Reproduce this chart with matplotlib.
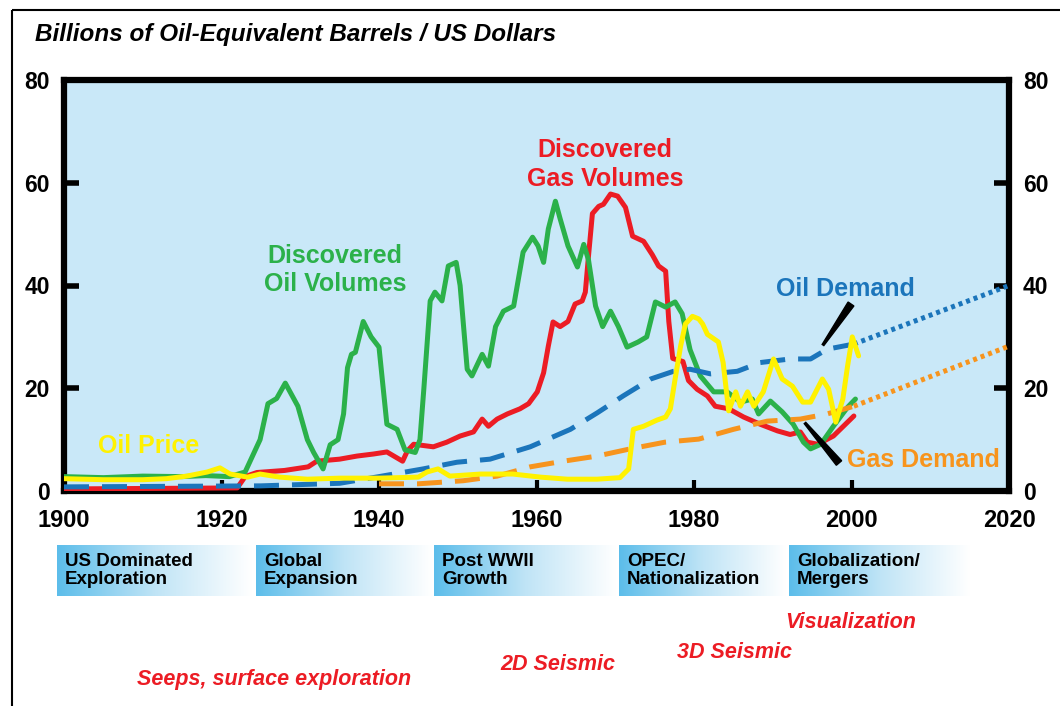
import numpy as np
import matplotlib
matplotlib.use("Agg")
import matplotlib.pyplot as plt
from matplotlib.colors import LinearSegmentedColormap
from matplotlib.patches import Rectangle, Polygon

# --- data ------------------------------------------------------------------
oil_vol_years = [1900, 1905, 1910, 1915, 1918, 1921, 1923, 1924.9, 1925.9, 1927, 1928.1, 1929.7,
                 1930.9, 1931.7, 1932.9, 1933.8, 1934.8, 1935.5, 1936, 1936.5, 1937, 1938, 1939,
                 1940, 1941, 1942.3, 1943.3, 1944.6, 1945.2, 1945.7, 1946.5, 1947.1, 1948, 1948.8,
                 1949.8, 1950.3, 1951.2, 1951.8, 1953.1, 1953.9, 1954.8, 1955.8, 1957.1, 1958.3,
                 1959.5, 1960.2, 1960.9, 1961.5, 1962.4, 1963, 1964, 1965.2, 1966, 1966.6, 1967.5,
                 1968.4, 1969.4, 1970.4, 1971.5, 1972.9, 1974, 1975.1, 1976.4, 1977.6, 1978.5,
                 1979.5, 1980.8, 1982.5, 1984.2, 1985.9, 1987.4, 1988.2, 1989.7, 1991.2, 1992.6,
                 1993.9, 1994.8, 1996.1, 1997.7, 1999.5, 2000.5]
oil_vol = [2.8, 2.6, 2.9, 2.8, 3.0, 2.8, 3.7, 10, 17, 18, 21, 16.5,
           10, 7.5, 4.3, 9, 10, 15, 24, 26.6, 27, 33, 30,
           28, 13, 12, 8, 7.5, 10, 20, 37, 38.7, 37, 43.8,
           44.5, 40, 23.7, 22.4, 26.6, 24.3, 32, 35, 36, 46.5,
           49.4, 47.7, 44.5, 51, 56.4, 53, 47.7, 43.6, 48, 45, 36,
           32, 35, 32, 28, 29, 30, 36.8, 35.8, 36.8, 34.5,
           27.5, 22.4, 19.3, 19.3, 17.3, 17.9, 15, 17.5, 15.4, 13,
           9.5, 8.2, 9.1, 12.6, 16.3, 17.9]

gas_vol_years = [1900, 1922, 1923, 1924.5, 1928, 1931, 1932.1, 1935, 1937.2, 1939.3, 1941, 1943,
                 1943.6, 1944.4, 1946.9, 1948.6, 1950.3, 1952, 1953.1, 1953.9, 1955, 1956.3,
                 1957.9, 1959, 1960.1, 1960.9, 1961.5, 1962.1, 1963, 1964, 1964.9, 1965.8, 1966.2,
                 1966.6, 1967.1, 1967.9, 1968.5, 1969.4, 1970.3, 1971.3, 1972.2, 1973.6, 1974.7,
                 1975.5, 1976.4, 1976.8, 1977.3, 1978.6, 1979.3, 1980.4, 1981.7, 1982.7, 1984.4,
                 1986.3, 1988.4, 1990.6, 1992.2, 1993.5, 1994.4, 1995.7, 1997.7, 2000.3]
gas_vol = [0.4, 0.6, 2.8, 3.6, 4.0, 4.7, 5.8, 6.2, 6.8, 7.2, 7.6, 5.8,
           7.8, 9.1, 8.6, 9.5, 10.7, 11.5, 14, 12.6, 14, 15,
           16, 17, 19.3, 23, 28.2, 32.9, 32, 33, 36.4, 37, 38.7,
           45.7, 54, 55.4, 55.8, 57.8, 57.4, 55.2, 49.6, 48.6, 46,
           43.8, 42.8, 33, 25.8, 25.2, 21.5, 19.8, 18.5, 16.5, 16,
           14.4, 13, 11.7, 11, 11.5, 9.5, 9.1, 10.7, 14.6]

price_years = [1900, 1905, 1910, 1913, 1915.6, 1918.2, 1919.8, 1921.1, 1923.3, 1924.9, 1927.4,
               1930.9, 1935, 1940, 1945, 1946.1, 1947.5, 1949, 1952.9, 1957, 1960.5, 1963.9,
               1967.7, 1970.6, 1971.7, 1972.3, 1973.6, 1975.3, 1976.4, 1977, 1977.6, 1978.3,
               1978.9, 1979.8, 1980.6, 1981.1, 1981.7, 1983.1, 1983.7, 1984.4, 1985.3, 1985.9,
               1986.8, 1987.6, 1988.8, 1990.1, 1991.2, 1992.5, 1993.8, 1994.8, 1996.3, 1997.1,
               1998, 1998.9, 1999.5, 2000.1, 2000.9]
price = [2.4, 2.2, 2.2, 2.4, 2.9, 3.7, 4.5, 3.3, 2.7, 3.3, 2.7,
         2.3, 2.5, 2.5, 2.7, 3.7, 4.3, 2.9, 3.3, 3.3, 2.7, 2.3,
         2.3, 2.6, 4.3, 12, 12.6, 13.8, 14.4, 16, 21.8, 28.2,
         32.5, 34, 33.5, 32.5, 30.5, 29, 25, 15.6, 19.3, 16.5,
         19.3, 16.5, 19.3, 25.7, 21.8, 20.4, 17.3, 17.3, 21.8, 19.8,
         13.4, 17.9, 24.3, 30, 26.3]

oil_dem_years = [1900, 1925, 1935, 1940, 1945.6, 1949.9, 1954.1, 1959.2, 1964.3, 1967.7, 1971,
                 1974.5, 1977.4, 1979.5, 1982.1, 1985.5, 1988.4, 1992.2, 1994.8, 1996.9, 2000.3]
oil_dem = [0.8, 1.0, 1.5, 2.8, 4.3, 5.6, 6.2, 8.6, 12, 15.2, 18.5,
           21.8, 23.3, 23.7, 22.8, 23.3, 25, 25.7, 25.7, 27.6, 28.6]
oil_dem_fc_years = [2000.3, 2020]
oil_dem_fc = [28.6, 40]

gas_dem_years = [1940, 1945, 1950.7, 1955, 1959.2, 1963.4, 1967.7, 1971.9, 1976.3, 1980.6,
                 1985, 1989.3, 1993.5, 1996.9, 2000.3]
gas_dem = [1.4, 1.4, 2.0, 2.9, 4.7, 5.8, 6.8, 8.2, 9.5, 10.1, 12, 13.6, 14, 15, 16.5]
gas_dem_fc_years = [2000.3, 2020]
gas_dem_fc = [16.5, 28.2]

eras = ["US Dominated\nExploration", "Global\nExpansion", "Post WWII\nGrowth",
        "OPEC/\nNationalization", "Globalization/\nMergers"]
techniques = ["Visualization", "3D Seismic", "2D Seismic", "Seeps, surface exploration"]

# --- colours ---------------------------------------------------------------
GREEN = "#2bb14a"
RED = "#ec1c24"
YELLOW = "#fff200"
BLUE = "#1b75bb"
ORANGE = "#f7941d"
BG = "#c9e8f8"

NARROW = ["Liberation Sans Narrow", "Liberation Sans", "DejaVu Sans"]
WIDE = ["Liberation Sans", "DejaVu Sans"]

fig = plt.figure(figsize=(10.6, 7.06), dpi=100)
W, H = 1060, 706
ax = fig.add_axes([64 / W, 1 - 491 / H, (1009 - 64) / W, (491 - 80) / H])
ax.set_facecolor(BG)
ax.set_xlim(1900, 2020)
ax.set_ylim(0, 80)

lw = 3.6
kw = dict(lw=lw, solid_joinstyle="round", solid_capstyle="round")
ax.plot(gas_vol_years, gas_vol, color=RED, zorder=3, **kw)
ax.plot(oil_vol_years, oil_vol, color=GREEN, zorder=4, **kw)
ax.plot(gas_dem_years, gas_dem, color=ORANGE, lw=lw, dashes=(5, 2.6), zorder=5)
ax.plot(gas_dem_fc_years, gas_dem_fc, color=ORANGE, lw=lw, dashes=(0.8, 0.8), zorder=5)
ax.plot(oil_dem_years, oil_dem, color=BLUE, lw=lw, dashes=(5, 2.6), zorder=5)
ax.plot(oil_dem_fc_years, oil_dem_fc, color=BLUE, lw=lw, dashes=(0.8, 0.8), zorder=5)
ax.plot(price_years, price, color=YELLOW, zorder=6, **kw)

# curve labels
lab_kw = dict(fontsize=18, fontweight="bold", family=WIDE, ha="center", va="center",
              linespacing=1.25)
ax.text(1934.4, 43, "Discovered\nOil Volumes", color=GREEN, **lab_kw)
ax.text(1968.7, 63.6, "Discovered\nGas Volumes", color=RED, **lab_kw)
ax.text(1999.2, 39.3, "Oil Demand", color=BLUE, **lab_kw)
ax.text(2009.1, 6.0, "Gas Demand", color=ORANGE, **lab_kw)
ax.text(1910.7, 8.8, "Oil Price", color=YELLOW, **lab_kw)

# axes styling
for s in ax.spines.values():
    s.set_linewidth(4.5)
ax.set_xticks([1900, 1920, 1940, 1960, 1980, 2000, 2020])
ax.set_yticks([0, 20, 40, 60, 80])
ax.tick_params(axis="y", direction="in", length=11, width=4, left=True, right=True,
               labelleft=True, labelright=True, pad=10, labelsize=16.5)
ax.tick_params(axis="x", direction="in", length=8, width=3, pad=13, labelsize=17)
for t in ax.yaxis.get_major_ticks():
    for lab in (t.label1, t.label2):
        lab.set_fontweight("bold")
        lab.set_family(WIDE)
for lab in ax.get_xticklabels():
    lab.set_fontweight("bold")
    lab.set_family(WIDE)

# --- overlay in pixel coordinates for frame, title, eras -------------------
ov = fig.add_axes([0, 0, 1, 1], zorder=-1)
ov.axis("off")

ov.add_patch(Rectangle((12, 10), W, H, fill=False, ec="black", lw=1.5))
ov.text(35, 35, "Billions of Oil-Equivalent Barrels / US Dollars", fontsize=17.5,
        fontweight="bold", fontstyle="italic", family=WIDE, va="center", ha="left")

cmap = LinearSegmentedColormap.from_list("era", ["#5cbdea", "#bfe4f6", "#ffffff"])
grad = np.linspace(0, 1, 256).reshape(1, -1)
era_x = [(57, 252), (256, 432), (434, 616), (619, 786), (789, 970)]
for (x0, x1), name in zip(era_x, eras):
    ov.imshow(grad, cmap=cmap, aspect="auto", extent=(x0, x1, 596, 545), zorder=1)
    ov.text(x0 + 8, 570.5, name, fontsize=13.5, fontweight="bold", family=NARROW,
            va="center", ha="left", linespacing=1.05, zorder=2)
ov.set_xlim(0, W)
ov.set_ylim(H, 0)

tech_pos = [(785, 622), (677, 653), (500, 665), (137, 680)]
for (tx, ty), t in zip(tech_pos, techniques):
    ov.text(tx, ty, t, color=RED, fontsize=15.5, fontweight="bold", fontstyle="italic",
            family=NARROW, va="center", ha="left")

# pointer wedges (pixel coords on a top overlay)
top = fig.add_axes([0, 0, 1, 1], zorder=10)
top.set_xlim(0, W)
top.set_ylim(H, 0)
top.axis("off")


def wedge(p0, p1, w0, w1):
    p0, p1 = np.array(p0, float), np.array(p1, float)
    d = p1 - p0
    n = np.array([-d[1], d[0]]) / np.hypot(*d)
    pts = [p0 + n * w0, p1 + n * w1, p1 - n * w1, p0 - n * w0]
    top.add_patch(Polygon(pts, closed=True, color="black"))


wedge((823, 345), (851, 304), 1.0, 3.5)
wedge((805, 423), (839, 463), 1.0, 3.5)

fig.savefig("out.png", dpi=100)
